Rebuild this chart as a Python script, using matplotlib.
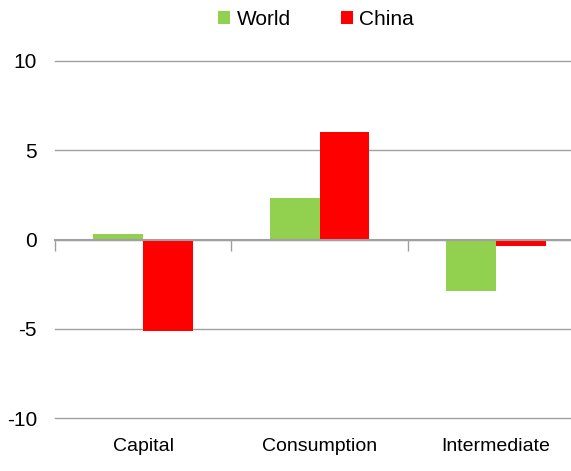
import matplotlib
matplotlib.use("Agg")
import matplotlib.pyplot as plt
import numpy as np
from matplotlib import font_manager

categories = ["Capital", "Consumption", "Intermediate"]
world = [0.3, 2.35, -2.9]
china = [-5.1, 6.0, -0.35]
yticks = [-10, -5, 0, 5, 10]

names = {f.name for f in font_manager.fontManager.ttflist}
fam = "Liberation Sans Narrow" if "Liberation Sans Narrow" in names else "Liberation Sans"
plt.rcParams['font.family'] = [fam, 'DejaVu Sans']

W, H = 571, 471
fig = plt.figure(figsize=(W / 100, H / 100), dpi=100)
left, right = 55, 584
top, bottom = 61, 418
ax = fig.add_axes([left / W, 1 - bottom / H, (right - left) / W, (bottom - top) / H])

x = np.arange(len(categories))
bw = 0.283
ax.bar(x - bw / 2, world, bw, color="#92d050", label="World", zorder=3)
ax.bar(x + bw / 2, china, bw, color="#ff0000", label="China", zorder=3)

ax.set_xlim(-0.5, len(categories) - 0.5)
ax.set_ylim(-10, 10)
ax.set_yticks(yticks)
ax.set_yticklabels([str(v) for v in yticks], fontsize=15)
ax.yaxis.grid(True, color="#a0a0a0", linewidth=1.0, zorder=0, clip_on=False)
for gl in ax.get_ygridlines():
    gl.set_clip_on(False)
ax.tick_params(axis="y", length=0, pad=13)
for s in ["top", "right", "left"]:
    ax.spines[s].set_visible(False)
ax.spines["bottom"].set_position(("data", 0))
ax.spines["bottom"].set_color("#a0a0a0")
ax.spines["bottom"].set_linewidth(1.5)
ax.spines["bottom"].set_zorder(4)

ax.set_xticks([-0.5, 0.5, 1.5, 2.5])
ax.set_xticklabels([])
ax.tick_params(axis="x", length=8, color="#a0a0a0", width=1)
for i, c in enumerate(categories):
    ax.text(i, -11.1, c, ha="center", va="top", fontsize=14,
            transform=ax.transData)

fig.legend(loc="upper center", bbox_to_anchor=(316 / W, 1.005), ncol=2,
           frameon=False, fontsize=15, handlelength=0.6, handleheight=0.6,
           handletextpad=0.3, columnspacing=2.4, borderaxespad=0.2)

fig.savefig("out.png", dpi=100)
